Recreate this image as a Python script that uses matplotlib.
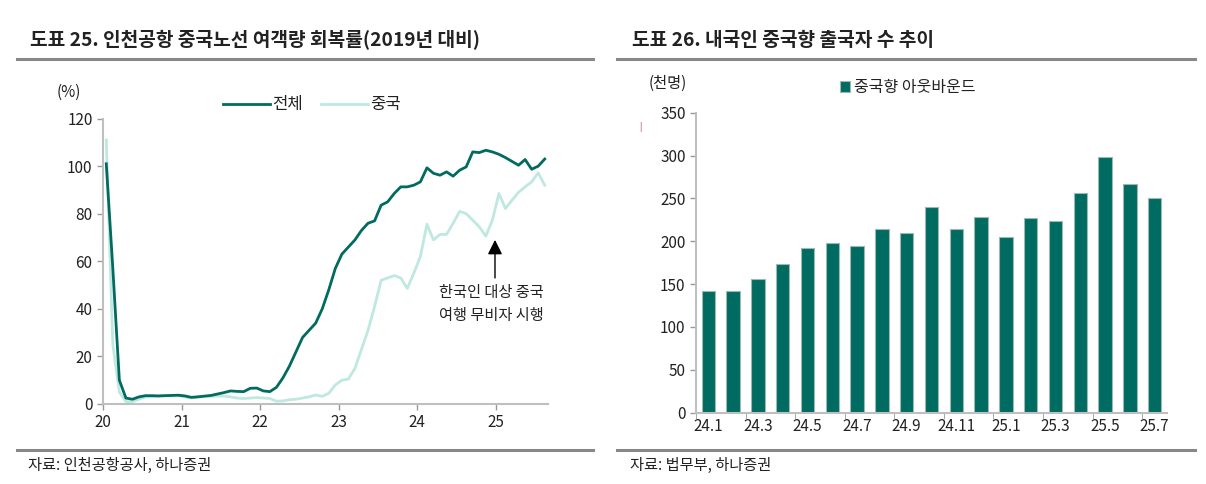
import numpy as np
import matplotlib
matplotlib.use('Agg')
import matplotlib.pyplot as plt
from matplotlib.lines import Line2D

plt.rcParams['font.family'] = ['Noto Sans CJK KR', 'DejaVu Sans']

# 도표 25: 월별 회복률 (2019년 대비, %), 2020.1 ~ 2025.8
total = [101, 57, 10, 2.5, 2, 3, 3.5, 3.5, 3.4, 3.5, 3.6, 3.7,
         3.4, 2.8, 3, 3.3, 3.6, 4.2, 4.8, 5.5, 5.3, 5.2, 6.6, 6.7,
         5.5, 5.2, 7, 11, 16, 22, 28, 31, 34, 40, 48, 57,
         63, 66, 69, 73, 76, 77, 83.6, 85, 88.5, 91.3, 91.3, 92,
         93.4, 99.3, 97, 96.2, 97.6, 95.8, 98.3, 99.7, 106, 105.7, 106.7, 106,
         105, 103.6, 102, 100.4, 102.8, 98.7, 100, 103]
china = [111, 25, 5, 1, 1, 2, 3, 3, 3.3, 3.5, 3.5, 3.5,
         3, 2.5, 3, 3.3, 3.2, 3.3, 3.3, 3, 2.5, 2.3, 2.5, 2.7,
         2.5, 2.3, 1.2, 1.3, 1.8, 2, 2.5, 3, 3.8, 3.2, 4.5, 8,
         10, 10.5, 15, 23, 31, 41, 52, 53, 54, 53, 48.6, 55,
         62, 75.6, 69, 71.3, 71.3, 76, 81, 80, 77.3, 74.5, 70.6, 77.3,
         88.5, 82.2, 85.7, 89, 91.3, 93.4, 97.2, 92]
year_labels = ['20', '21', '22', '23', '24', '25']

# 도표 26: 중국향 아웃바운드 (천명), 24.1 ~ 25.7
months = ['24.1', '24.2', '24.3', '24.4', '24.5', '24.6', '24.7', '24.8', '24.9', '24.10',
          '24.11', '24.12', '25.1', '25.2', '25.3', '25.4', '25.5', '25.6', '25.7']
outbound = [142, 142, 156, 173, 192.5, 197.6, 194.5, 214.3, 209.3, 240,
            214.3, 228, 204.6, 227, 224, 256, 298, 267, 251]

W, H = 1206, 484
dark = '#006b5e'
light = '#bfe8e1'
bar_c = '#006b60'
txt = '#222222'
axc = '#bfbfbf'

fig = plt.figure(figsize=(W / 100, H / 100), dpi=100)


def px(x, y):
    return x / W, 1 - y / H


def rule(x0, x1, y):
    fig.add_artist(Line2D([x0 / W, x1 / W], [1 - y / H] * 2, color='#888888', lw=2.2))


def style_axes(ax):
    for s in ['top', 'right']:
        ax.spines[s].set_visible(False)
    for s in ['left', 'bottom']:
        ax.spines[s].set_color(axc)
        ax.spines[s].set_linewidth(1.5)
    ax.tick_params(colors=txt, labelsize=11, length=4, width=1, color='#999999')


# titles & rules
fig.text(*px(30, 40), '도표 25. 인천공항 중국노선 여객량 회복률(2019년 대비)', fontsize=13.8,
         fontweight='bold', color=txt, va='center')
fig.text(*px(632, 40), '도표 26. 내국인 중국향 출국자 수 추이', fontsize=13.8,
         fontweight='bold', color=txt, va='center')
rule(17, 593, 59)
rule(617, 1195, 59)
rule(17, 593, 450)
rule(617, 1195, 450)
fig.text(*px(28, 465), '자료: 인천공항공사, 하나증권', fontsize=11, color=txt, va='center')
fig.text(*px(630, 465), '자료: 법무부, 하나증권', fontsize=11, color=txt, va='center')

# left chart
ax1 = fig.add_axes([103 / W, 1 - 404 / H, 445 / W, 285.4 / H])
x = np.arange(len(total))
ax1.plot(x, total, color=dark, lw=2.0, label='전체', zorder=3)
ax1.plot(x, china, color=light, lw=2.0, label='중국', zorder=2)
ax1.set_xlim(-0.5, len(total) - 0.5)
ax1.set_ylim(0, 120)
ax1.set_yticks(range(0, 121, 20))
ax1.set_xticks(np.arange(len(year_labels)) * 12 - 0.5)
ax1.set_xticklabels(year_labels)
style_axes(ax1)
ax1.annotate('', xy=(59.4, 69), xytext=(59.4, 53),
             arrowprops=dict(arrowstyle='-|>', color='black', lw=1.0,
                             mutation_scale=22, shrinkA=0, shrinkB=0))
ax1.text(58.8, 42, '한국인 대상 중국\n여행 무비자 시행', ha='center', va='center',
         fontsize=11, color=txt, linespacing=1.45)
ax1.legend(loc='upper center', bbox_to_anchor=(0.47, 1.13), ncol=2, frameon=False,
           fontsize=12, handlelength=2.8, columnspacing=1.1, handletextpad=0.15,
           labelcolor=txt)
fig.text(*px(69, 92), '(%)', fontsize=11, color=txt, ha='center', va='center')

# right chart
ax2 = fig.add_axes([696 / W, 1 - 412.7 / H, 471 / W, 300 / H])
xb = np.arange(len(outbound))
ax2.bar(xb, outbound, width=0.54, color=bar_c, edgecolor='#9db8b3', linewidth=0.8,
        label='중국향 아웃바운드')
ax2.set_xlim(-0.5, len(outbound) - 0.5)
ax2.set_ylim(0, 350)
ax2.set_yticks(range(0, 351, 50))
ax2.set_xticks(xb[::2])
ax2.set_xticklabels(months[::2])
ax2.set_xticks(np.arange(-0.5, len(outbound), 2), minor=True)
style_axes(ax2)
ax2.tick_params(axis='x', which='major', length=0)
ax2.tick_params(axis='x', which='minor', length=4, color='#999999')
ax2.legend(loc='upper center', bbox_to_anchor=(0.45, 1.16), frameon=False, fontsize=11.5,
           handlelength=0.6, handleheight=0.6, handletextpad=0.3, labelcolor=txt)
fig.text(*px(668, 83), '(천명)', fontsize=11, color=txt, ha='center', va='center')
fig.text(*px(640, 127), '|', fontsize=6, color='#8b2020', ha='center', va='center')

fig.savefig('out.png', dpi=100)
